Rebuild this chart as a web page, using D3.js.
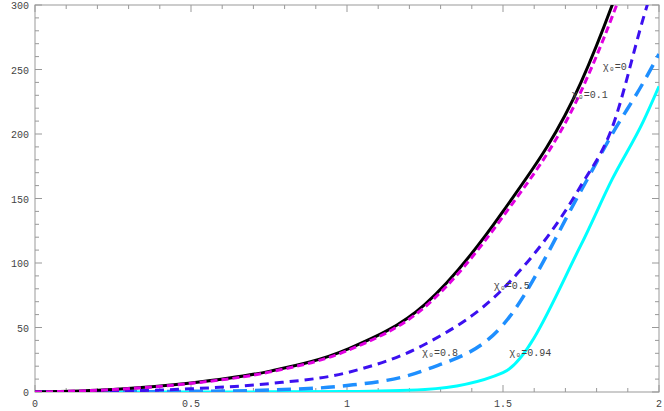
<!DOCTYPE html><html><head><script src="https://cdn.jsdelivr.net/npm/d3@7"></script>
<style>body{margin:0;background:#fff}text{font-family:"Liberation Mono",monospace;font-size:10px;fill:#444}</style></head><body><svg id="c" width="664" height="411"></svg><script>
const xs=[0,0.25,0.5,0.75,1,1.25,1.5,1.75,1.85,1.95,2];
const chi0=[0,2,7,16,33,68,140,240,300,370,420];
const chi01=[0,1.9,6.7,15.4,32,66,136,233,291,360,410];
const chi05=[0,0.6,2.5,6.5,15,37,80,160,205,290,330];
const chi08=[0,0.1,0.5,1.5,5,17,52,156,200,240,262];
const chi094=[0,0,0,0.1,0.4,2,15,114,165,210,237];
const xTicks=[0,0.5,1,1.5,2], yTicks=[0,50,100,150,200,250,300];
const labels=[["χ₀=0",1.82,250],["χ₀=0.1",1.72,228],["χ₀=0.5",1.47,80],["χ₀=0.8",1.24,28],["χ₀=0.94",1.52,28]];
const svg=d3.select("#c"),L=35,R=659,T=5,B=392;
const x=d3.scaleLinear([0,2],[L,R]),y=d3.scaleLinear([0,300],[B,T]);
svg.append("clipPath").attr("id","cp").append("rect").attr("x",L).attr("y",T).attr("width",R-L).attr("height",B-T);
const g=svg.append("g");
// minor ticks
const ax=g.append("g").attr("stroke","#999");
d3.range(0,2.001,0.1).forEach(v=>{const l=Math.abs(v*2-Math.round(v*2))<1e-6?7:4;ax.append("line").attr("x1",x(v)).attr("x2",x(v)).attr("y1",B).attr("y2",B-l);ax.append("line").attr("x1",x(v)).attr("x2",x(v)).attr("y1",T).attr("y2",T+l);});
d3.range(0,300.1,10).forEach(v=>{const l=v%50==0?7:4;ax.append("line").attr("y1",y(v)).attr("y2",y(v)).attr("x1",L).attr("x2",L+l);ax.append("line").attr("y1",y(v)).attr("y2",y(v)).attr("x1",R).attr("x2",R-l);});
g.append("rect").attr("x",L).attr("y",T).attr("width",R-L).attr("height",B-T).attr("fill","none").attr("stroke","#999");
xTicks.forEach(v=>g.append("text").attr("x",x(v)).attr("y",B+15).attr("text-anchor","middle").text(v));
yTicks.forEach(v=>g.append("text").attr("x",L-6).attr("y",y(v)+4).attr("text-anchor","end").text(v));
const line=d3.line().x((d,i)=>x(xs[i])).y(d=>y(d)).curve(d3.curveMonotoneX);
const cg=g.append("g").attr("clip-path","url(#cp)").attr("fill","none");
[[chi094,"#00ffff",3,null],[chi08,"#1e8fff",3.5,"14,8"],[chi05,"#3c10f0",3,"9,6"],[chi0,"#000",3,null],[chi01,"#e000e0",3,"7,4"]]
.forEach(([d,c,w,da])=>cg.append("path").attr("d",line(d)).attr("stroke",c).attr("stroke-width",w).attr("stroke-dasharray",da));
labels.forEach(([t,a,b])=>g.append("text").attr("x",x(a)).attr("y",y(b)).text(t));
</script></body></html>
